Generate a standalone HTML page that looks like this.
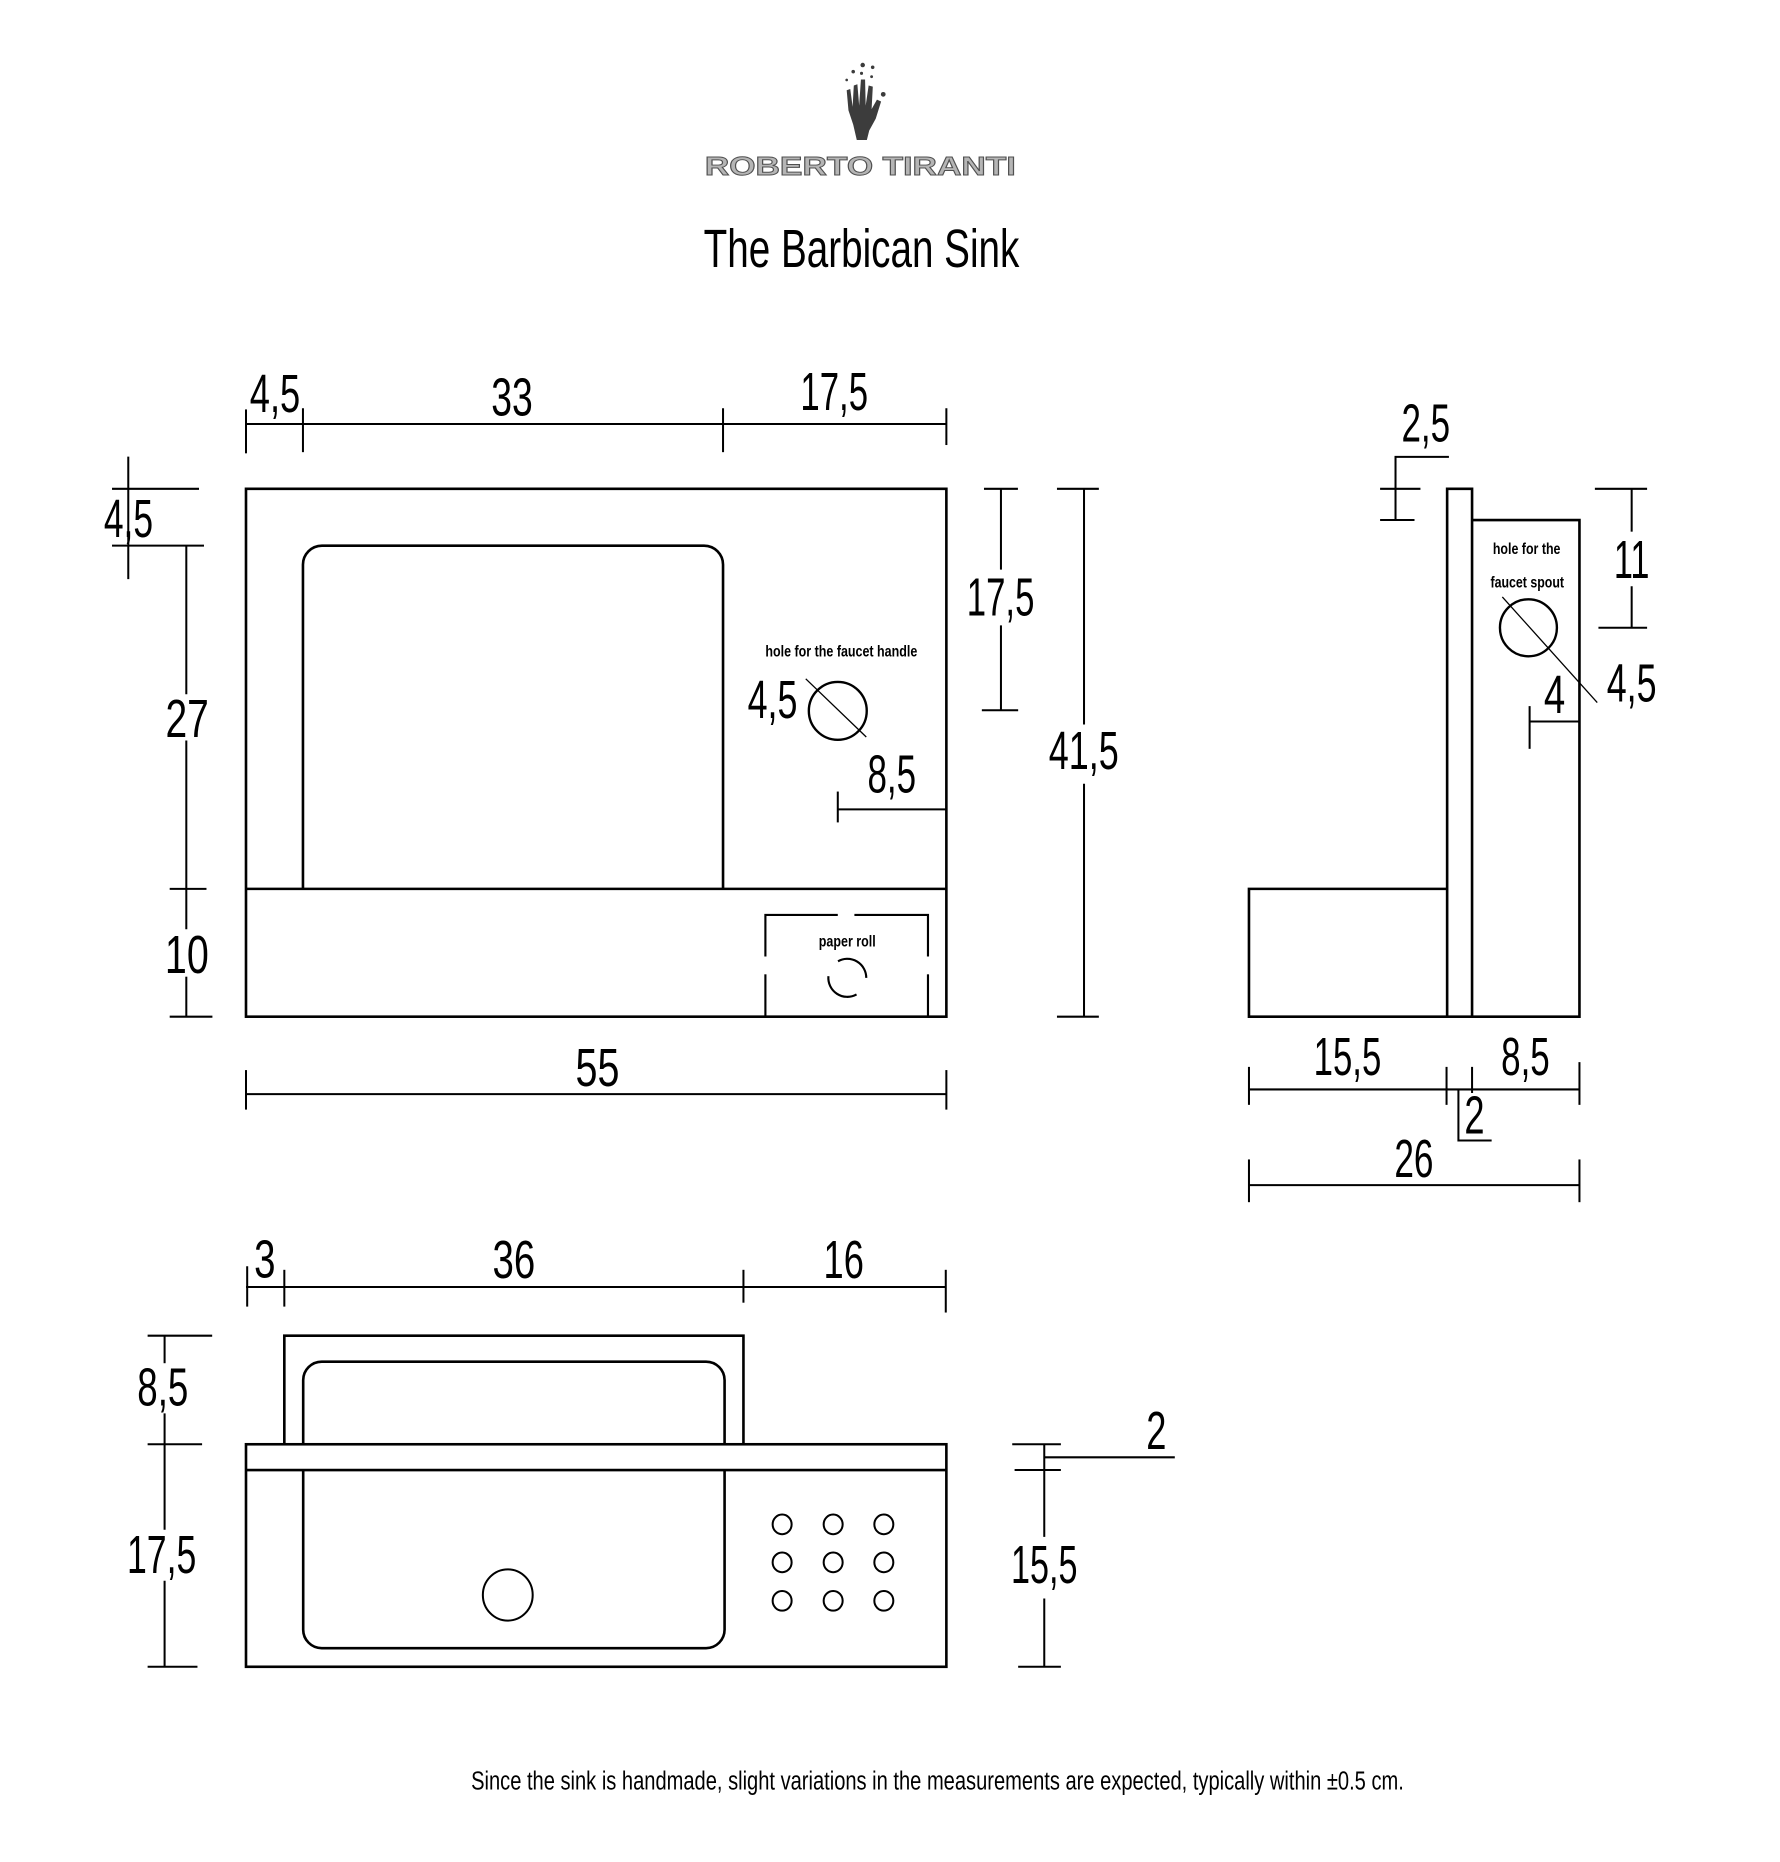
<!DOCTYPE html>
<html>
<head>
<meta charset="utf-8">
<style>
  html, body { margin: 0; padding: 0; background: #ffffff; }
  svg { display: block; }
  .t { font-family: "Liberation Sans", "DejaVu Sans", sans-serif; fill: #000; }
</style>
</head>
<body>
<svg xmlns="http://www.w3.org/2000/svg" width="1780" height="1862" viewBox="0 0 1500 1569" preserveAspectRatio="none">
  <rect x="0" y="0" width="1500" height="1569" fill="#ffffff"/>

  <!-- ===== Logo ===== -->
  <g fill="#3c3c3c">
    <circle cx="727" cy="54.8" r="1.9"/>
    <circle cx="719" cy="60.4" r="1.5"/>
    <circle cx="735.4" cy="56.7" r="1.5"/>
    <circle cx="726" cy="61.8" r="1.3"/>
    <circle cx="734.5" cy="64.6" r="1.2"/>
    <circle cx="713.5" cy="67.4" r="1.1"/>
    <circle cx="744.3" cy="79.5" r="2"/>
    <path d="M722 118 L719 105 L715 93 L713.5 76 L716.5 75 L718.5 90 L719.5 72 L722.5 71 L724 89 L725.5 67 L729 67 L729.5 89 L732 72 L735.5 73 L734.5 92 L739 84 L742.5 85.5 L738 100 L732.5 110 L730.5 118 Z"/>
  </g>
  <text class="t" x="594" y="147.6" font-size="22" font-weight="bold" textLength="262" lengthAdjust="spacingAndGlyphs" style="fill:#b5b5b5;stroke:#505050;stroke-width:0.8">ROBERTO TIRANTI</text>

  <!-- Title -->
  <text class="t" x="593" y="225" font-size="45" textLength="266" lengthAdjust="spacingAndGlyphs">The Barbican Sink</text>

  <!-- ===== FRONT VIEW ===== -->
  <g fill="none" stroke="#000" stroke-width="2.2">
    <rect x="207.3" y="411.9" width="590.2" height="444.8"/>
    <line x1="207.3" y1="749" x2="797.5" y2="749"/>
    <path d="M255.3 749 V476 A16 16 0 0 1 271.3 459.8 H593.3 A16 16 0 0 1 609.3 476 V749"/>
  </g>
  <!-- top dims -->
  <g stroke="#000" stroke-width="1.7" fill="none">
    <line x1="207.3" y1="357.3" x2="797.5" y2="357.3"/>
    <line x1="207.3" y1="345" x2="207.3" y2="382"/>
    <line x1="255.3" y1="344" x2="255.3" y2="381"/>
    <line x1="609.3" y1="344" x2="609.3" y2="381"/>
    <line x1="797.5" y1="344" x2="797.5" y2="375"/>
  </g>
  <text class="t" x="210.5" y="347" font-size="45" textLength="42.5" lengthAdjust="spacingAndGlyphs">4,5</text>
  <text class="t" x="414" y="350" font-size="45" textLength="35" lengthAdjust="spacingAndGlyphs">33</text>
  <text class="t" x="674.5" y="345.5" font-size="45" textLength="57" lengthAdjust="spacingAndGlyphs">17,5</text>

  <!-- left dims -->
  <g stroke="#000" stroke-width="1.7" fill="none">
    <line x1="108.1" y1="384.8" x2="108.1" y2="488"/>
    <line x1="94.4" y1="411.9" x2="167.7" y2="411.9"/>
    <line x1="94.4" y1="459.8" x2="171.9" y2="459.8"/>
    <line x1="157" y1="459.8" x2="157" y2="585"/>
    <line x1="157" y1="624" x2="157" y2="783"/>
    <line x1="157" y1="823" x2="157" y2="856.7"/>
    <line x1="143" y1="749" x2="174" y2="749"/>
    <line x1="143" y1="856.7" x2="179" y2="856.7"/>
  </g>
  <text class="t" x="87.5" y="452.5" font-size="45" textLength="41.5" lengthAdjust="spacingAndGlyphs">4,5</text>
  <text class="t" x="139.5" y="621" font-size="45" textLength="36.5" lengthAdjust="spacingAndGlyphs">27</text>
  <text class="t" x="139" y="820" font-size="45" textLength="37" lengthAdjust="spacingAndGlyphs">10</text>

  <!-- right dims -->
  <g stroke="#000" stroke-width="1.7" fill="none">
    <line x1="829.2" y1="411.9" x2="857.8" y2="411.9"/>
    <line x1="843.5" y1="411.9" x2="843.5" y2="480"/>
    <line x1="843.5" y1="527" x2="843.5" y2="598.5"/>
    <line x1="827.4" y1="598.5" x2="858" y2="598.5"/>
    <line x1="890.7" y1="411.9" x2="926" y2="411.9"/>
    <line x1="913.5" y1="411.9" x2="913.5" y2="610.5"/>
    <line x1="913.5" y1="660.4" x2="913.5" y2="856.7"/>
    <line x1="890.7" y1="856.7" x2="926" y2="856.7"/>
  </g>
  <text class="t" x="814.7" y="518.5" font-size="45" textLength="57" lengthAdjust="spacingAndGlyphs">17,5</text>
  <text class="t" x="883.8" y="648" font-size="45" textLength="59" lengthAdjust="spacingAndGlyphs">41,5</text>

  <!-- faucet handle hole -->
  <text class="t" x="645" y="553.4" font-size="13.5" font-weight="bold" textLength="128" lengthAdjust="spacingAndGlyphs">hole for the faucet handle</text>
  <circle cx="706" cy="599" r="24.4" fill="none" stroke="#000" stroke-width="2"/>
  <line x1="679" y1="572" x2="730" y2="621" stroke="#000" stroke-width="1.1"/>
  <text class="t" x="630" y="605" font-size="45" textLength="42" lengthAdjust="spacingAndGlyphs">4,5</text>
  <text class="t" x="731" y="668" font-size="45" textLength="41" lengthAdjust="spacingAndGlyphs">8,5</text>
  <g stroke="#000" stroke-width="1.7" fill="none">
    <line x1="706" y1="682" x2="797.5" y2="682"/>
    <line x1="706" y1="667" x2="706" y2="693"/>
  </g>

  <!-- paper roll -->
  <g stroke="#000" stroke-width="1.8" fill="none">
    <path d="M645 806 V771 H706"/>
    <path d="M720 771 H782 V806"/>
    <line x1="645" y1="821" x2="645" y2="856.7"/>
    <line x1="782" y1="821" x2="782" y2="856.7"/>
    <path d="M706.2 810 A16 16 0 0 1 730 824"/>
    <path d="M721.8 838 A16 16 0 0 1 698.1 822.6"/>
  </g>
  <text class="t" x="690" y="797.7" font-size="13.5" font-weight="bold" textLength="48" lengthAdjust="spacingAndGlyphs">paper roll</text>

  <!-- bottom dim 55 -->
  <g stroke="#000" stroke-width="1.7" fill="none">
    <line x1="207.3" y1="922" x2="797.5" y2="922"/>
    <line x1="207.3" y1="901.7" x2="207.3" y2="935"/>
    <line x1="797.5" y1="901.7" x2="797.5" y2="935"/>
  </g>
  <text class="t" x="485" y="915" font-size="45" textLength="37" lengthAdjust="spacingAndGlyphs">55</text>

  <!-- ===== SIDE VIEW ===== -->
  <g fill="none" stroke="#000" stroke-width="2.2">
    <rect x="1219.5" y="411.9" width="21" height="444.8"/>
    <path d="M1240.5 438.2 H1331 V856.7 H1240.5"/>
    <path d="M1219.5 749 H1052.5 V856.7 H1219.5"/>
  </g>
  <!-- 2,5 -->
  <g stroke="#000" stroke-width="1.7" fill="none">
    <path d="M1221 385 H1176 V438.2"/>
    <line x1="1163" y1="411.9" x2="1197" y2="411.9"/>
    <line x1="1163" y1="438.2" x2="1192" y2="438.2"/>
  </g>
  <text class="t" x="1181" y="372" font-size="45" textLength="41" lengthAdjust="spacingAndGlyphs">2,5</text>
  <!-- 11 -->
  <g stroke="#000" stroke-width="1.7" fill="none">
    <line x1="1344" y1="411.9" x2="1388" y2="411.9"/>
    <line x1="1375" y1="411.9" x2="1375" y2="448"/>
    <line x1="1375" y1="494" x2="1375" y2="529"/>
    <line x1="1347" y1="529" x2="1388" y2="529"/>
  </g>
  <text class="t" x="1360" y="487" font-size="45" textLength="30" lengthAdjust="spacingAndGlyphs">11</text>
  <!-- spout hole -->
  <text class="t" x="1258" y="467" font-size="13.5" font-weight="bold" textLength="57" lengthAdjust="spacingAndGlyphs">hole for the</text>
  <text class="t" x="1256" y="495" font-size="13.5" font-weight="bold" textLength="62" lengthAdjust="spacingAndGlyphs">faucet spout</text>
  <circle cx="1288" cy="529" r="24" fill="none" stroke="#000" stroke-width="2"/>
  <line x1="1266" y1="503" x2="1346" y2="592" stroke="#000" stroke-width="1.1"/>
  <text class="t" x="1354" y="591" font-size="45" textLength="42" lengthAdjust="spacingAndGlyphs">4,5</text>
  <text class="t" x="1301" y="601" font-size="45" textLength="18" lengthAdjust="spacingAndGlyphs">4</text>
  <g stroke="#000" stroke-width="1.7" fill="none">
    <line x1="1289" y1="608" x2="1331" y2="608"/>
    <line x1="1289" y1="595" x2="1289" y2="631"/>
  </g>
  <!-- bottom dims side -->
  <g stroke="#000" stroke-width="1.7" fill="none">
    <line x1="1052.5" y1="918" x2="1331" y2="918"/>
    <line x1="1052.5" y1="899" x2="1052.5" y2="931"/>
    <line x1="1219" y1="899" x2="1219" y2="931"/>
    <line x1="1240.5" y1="899" x2="1240.5" y2="921"/>
    <line x1="1331" y1="895" x2="1331" y2="931"/>
    <path d="M1229 918 V961 H1257"/>
    <line x1="1052.5" y1="998.6" x2="1331" y2="998.6"/>
    <line x1="1052.5" y1="977" x2="1052.5" y2="1013"/>
    <line x1="1331" y1="977" x2="1331" y2="1013"/>
  </g>
  <text class="t" x="1107" y="906" font-size="45" textLength="57" lengthAdjust="spacingAndGlyphs">15,5</text>
  <text class="t" x="1265" y="906" font-size="45" textLength="41" lengthAdjust="spacingAndGlyphs">8,5</text>
  <text class="t" x="1234" y="955" font-size="45" textLength="17" lengthAdjust="spacingAndGlyphs">2</text>
  <text class="t" x="1175" y="992" font-size="45" textLength="33" lengthAdjust="spacingAndGlyphs">26</text>

  <!-- ===== TOP VIEW ===== -->
  <g stroke="#000" stroke-width="1.7" fill="none">
    <line x1="207.3" y1="1084.5" x2="797.5" y2="1084.5"/>
    <line x1="208.3" y1="1067" x2="208.3" y2="1101"/>
    <line x1="239.6" y1="1070" x2="239.6" y2="1101"/>
    <line x1="626.5" y1="1070" x2="626.5" y2="1097.7"/>
    <line x1="797" y1="1070" x2="797" y2="1106"/>
  </g>
  <text class="t" x="214.2" y="1076.6" font-size="45" textLength="18" lengthAdjust="spacingAndGlyphs">3</text>
  <text class="t" x="415" y="1077" font-size="45" textLength="36" lengthAdjust="spacingAndGlyphs">36</text>
  <text class="t" x="694" y="1077" font-size="45" textLength="34" lengthAdjust="spacingAndGlyphs">16</text>

  <g fill="none" stroke="#000" stroke-width="2.2">
    <path d="M239.6 1217 V1125.5 H626.5 V1217"/>
    <path d="M255.5 1217 V1163 A15.6 15.6 0 0 1 271.1 1147.4 H595 A15.6 15.6 0 0 1 610.6 1163 V1217"/>
    <rect x="207.3" y="1217" width="590.2" height="187.5"/>
    <line x1="207.3" y1="1238.7" x2="797.5" y2="1238.7"/>
    <path d="M255.5 1238.7 V1373 A15.6 15.6 0 0 0 271.1 1388.8 H595 A15.6 15.6 0 0 0 610.6 1373 V1238.7"/>
  </g>
  <g fill="none" stroke="#000" stroke-width="1.7">
    <ellipse cx="427.9" cy="1344" rx="21" ry="21.6"/>
    <ellipse cx="659.1" cy="1284.5" rx="8" ry="8.3"/>
    <ellipse cx="702.1" cy="1284.5" rx="8" ry="8.3"/>
    <ellipse cx="744.8" cy="1284.5" rx="8" ry="8.3"/>
    <ellipse cx="659.1" cy="1316.5" rx="8" ry="8.3"/>
    <ellipse cx="702.1" cy="1316.5" rx="8" ry="8.3"/>
    <ellipse cx="744.8" cy="1316.5" rx="8" ry="8.3"/>
    <ellipse cx="659.1" cy="1348.9" rx="8" ry="8.3"/>
    <ellipse cx="702.1" cy="1348.9" rx="8" ry="8.3"/>
    <ellipse cx="744.8" cy="1348.9" rx="8" ry="8.3"/>
  </g>
  <!-- left dims top view -->
  <g stroke="#000" stroke-width="1.7" fill="none">
    <line x1="138.7" y1="1125.5" x2="138.7" y2="1148.7"/>
    <line x1="138.7" y1="1191" x2="138.7" y2="1289"/>
    <line x1="138.7" y1="1332" x2="138.7" y2="1404.5"/>
    <line x1="124.4" y1="1125.5" x2="178.8" y2="1125.5"/>
    <line x1="124.4" y1="1217" x2="170.3" y2="1217"/>
    <line x1="124.4" y1="1404.5" x2="166.4" y2="1404.5"/>
  </g>
  <text class="t" x="115.7" y="1184.3" font-size="45" textLength="43" lengthAdjust="spacingAndGlyphs">8,5</text>
  <text class="t" x="107" y="1325.3" font-size="45" textLength="58.5" lengthAdjust="spacingAndGlyphs">17,5</text>
  <!-- right dims top view -->
  <g stroke="#000" stroke-width="1.7" fill="none">
    <line x1="880" y1="1217" x2="880" y2="1295"/>
    <line x1="880" y1="1347" x2="880" y2="1404.5"/>
    <line x1="853" y1="1217" x2="894" y2="1217"/>
    <line x1="855" y1="1238.7" x2="894" y2="1238.7"/>
    <line x1="858" y1="1404.5" x2="894" y2="1404.5"/>
    <line x1="880" y1="1228" x2="990" y2="1228"/>
  </g>
  <text class="t" x="966" y="1221" font-size="45" textLength="17" lengthAdjust="spacingAndGlyphs">2</text>
  <text class="t" x="852" y="1334" font-size="45" textLength="56" lengthAdjust="spacingAndGlyphs">15,5</text>

  <!-- footer -->
  <text class="t" x="397" y="1508" font-size="22" textLength="786" lengthAdjust="spacingAndGlyphs">Since the sink is handmade, slight variations in the measurements are expected, typically within ±0.5 cm.</text>
</svg>
</body>
</html>
